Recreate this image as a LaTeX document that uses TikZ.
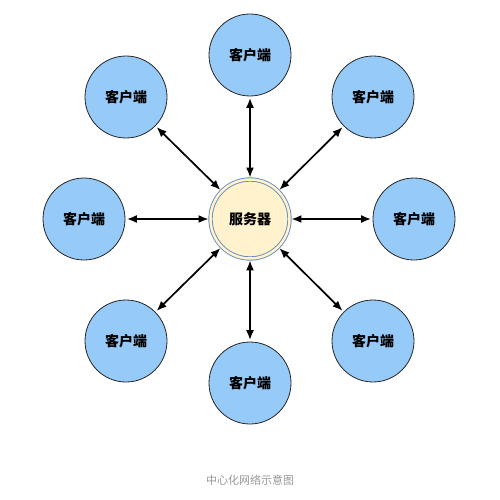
\documentclass[tikz,border=0pt]{standalone}
\usepackage{fontspec}
\usetikzlibrary{arrows.meta}
\newfontfamily\cjk{Noto Sans CJK SC}
\definecolor{clientblue}{RGB}{150,202,248}
\definecolor{servercream}{RGB}{255,242,205}
\definecolor{serverline}{RGB}{100,140,190}
\definecolor{captiongray}{RGB}{150,150,150}
\begin{document}
\begin{tikzpicture}[x=1pt,y=-1pt,
	client/.style={circle, draw=black!85, line width=0.8pt, fill=clientblue, minimum size=82pt, inner sep=0pt, font=\cjk\bfseries\fontsize{14}{16}\selectfont},
	server/.style={circle, draw=serverline, double=servercream, double distance=2.5pt, line width=0.9pt, fill=servercream, minimum size=79pt, inner sep=0pt, font=\cjk\bfseries\fontsize{14}{16}\selectfont},
	link/.style={{Latex[length=10pt,width=8pt]}-{Latex[length=10pt,width=8pt]}, line width=1.7pt, shorten >=1.5pt, shorten <=1.5pt}]
			\useasboundingbox (0,0) rectangle (499,500);

			\node [server] (srv) at (250,219) {服务器};

			\node [client] (c1) at (250,55) {客户端};
			\node [client] (c2) at (373,97) {客户端};
			\node [client] (c3) at (414,219) {客户端};
			\node [client] (c4) at (373,341) {客户端};
			\node [client] (c5) at (250,383) {客户端};
			\node [client] (c6) at (126,341) {客户端};
			\node [client] (c7) at (84,219) {客户端};
			\node [client] (c8) at (126,97) {客户端};

			\draw [link] (c1) -- (srv);
			\draw [link] (c2) -- (srv);
			\draw [link] (c3) -- (srv);
			\draw [link] (c4) -- (srv);
			\draw [link] (c5) -- (srv);
			\draw [link] (c6) -- (srv);
			\draw [link] (c7) -- (srv);
			\draw [link] (c8) -- (srv);

			\node [captiongray, font=\cjk\fontsize{11}{13}\selectfont] (cap) at (250,480) {中心化网络示意图};
		\end{tikzpicture}
\end{document}
